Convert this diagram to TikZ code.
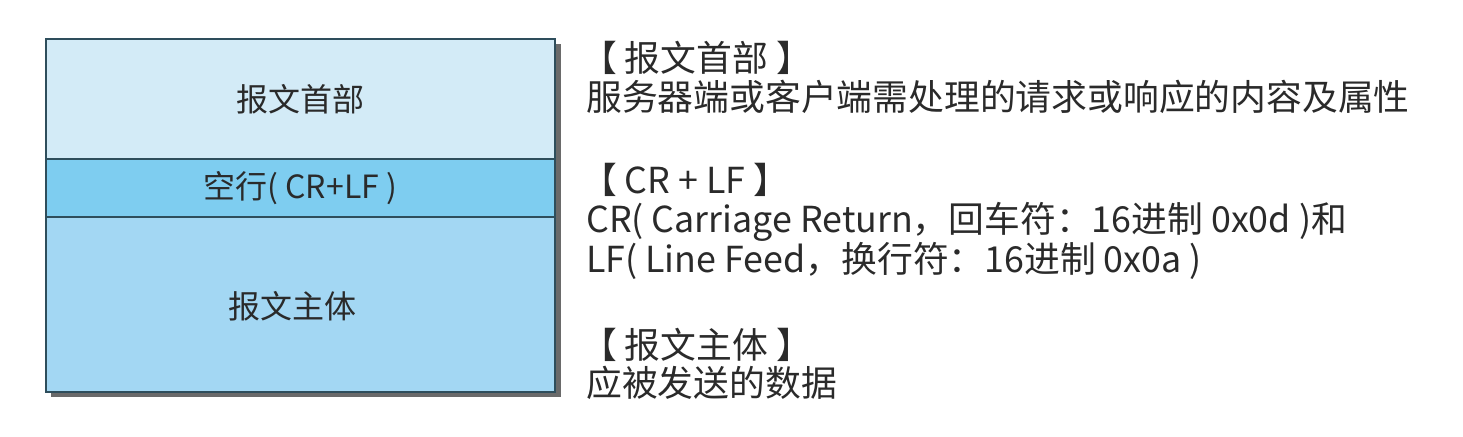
\documentclass[tikz,border=0pt]{standalone}
\usepackage{fontspec}
\setmainfont{Noto Sans CJK SC}
\begin{document}
\begin{tikzpicture}[x=1pt,y=-1pt,
  part/.style={draw=boxline,line width=1.6pt,minimum width=509pt,inner sep=0pt,anchor=north west},
  lbl/.style={font=\fontsize{32}{38}\selectfont,text=txt},
  desc/.style={font=\fontsize{35.8}{40}\selectfont,text=txt,anchor=west,inner sep=0pt}]
\definecolor{boxline}{HTML}{2E4E5C}
\definecolor{topfill}{HTML}{D3EBF7}
\definecolor{midfill}{HTML}{7ECDF0}
\definecolor{botfill}{HTML}{A3D7F3}
\definecolor{shadowc}{HTML}{6A6A6A}
\definecolor{txt}{HTML}{2A2A2A}
\useasboundingbox (0,0) rectangle (1463,436);
\fill[white] (0,0) rectangle (1463,436);
% shadow
\fill[shadowc] (51,44) rectangle (561,397);
\node[part,fill=topfill,minimum height=120pt] (hdr) at (45,38) {};
\node[part,fill=midfill,minimum height=58pt] (crlf) at (45,158) {};
\node[part,fill=botfill,minimum height=175pt] (body) at (45,216) {};
\node[lbl] (hdrt) at (hdr.center) {报文首部};
\node[lbl] (crlft) at (crlf.center) {空行( CR+LF )};
\node[lbl] (bodyt) at (292,306) {报文主体};
% descriptions
\node[desc] (d1) at (581,58) {【 报文首部 】};
\node[desc] (d2) at (586,97) {服务器端或客户端需处理的请求或响应的内容及属性};
\node[desc] (d3) at (581,180) {【 CR + LF 】};
\node[desc] (d4) at (586,222) {CR( Carriage Return，回车符：16进制 0x0d )和};
\node[desc] (d5) at (586,261) {LF( Line Feed，换行符：16进制 0x0a )};
\node[desc] (d6) at (581,345) {【 报文主体 】};
\node[desc] (d7) at (586,383) {应被发送的数据};
\end{tikzpicture}
\end{document}
